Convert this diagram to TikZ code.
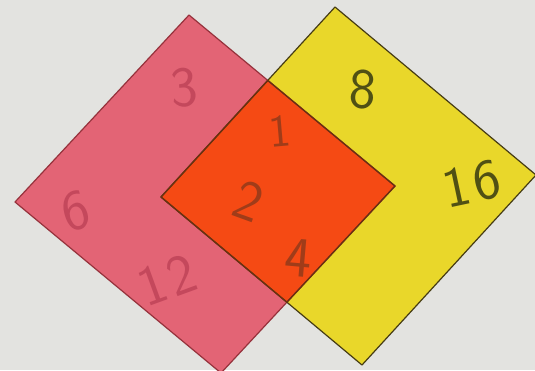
\documentclass[tikz,border=0pt]{standalone}
\usepackage{fontspec}
\definecolor{bg}{RGB}{227,227,224}
\definecolor{pinkf}{RGB}{227,100,117}
\definecolor{yellowf}{RGB}{233,215,42}
\definecolor{orangef}{RGB}{245,74,20}
\definecolor{pinkline}{RGB}{150,50,60}
\definecolor{yellowline}{RGB}{70,60,20}
\definecolor{pinkdigit}{RGB}{196,72,92}
\definecolor{olivedigit}{RGB}{80,80,20}
\definecolor{orangedigit}{RGB}{160,60,25}
\begin{document}
\begin{tikzpicture}[x=1pt,y=-1pt,
  digit/.style={font=\sffamily\fontsize{57}{57}\selectfont, inner sep=0pt},
  pinkd/.style={digit, text=pinkdigit},
  yelld/.style={digit, text=olivedigit},
  orad/.style={digit, text=orangedigit}]
\fill[bg] (0,0) rectangle (535,370);
\useasboundingbox (0,0) rectangle (535,370);
\begin{scope}
\clip (0,0) rectangle (535,370);
% corners
\coordinate (pT) at (189,15);
\coordinate (pL) at (15,202);
\coordinate (pB) at (221,373);
\coordinate (pR) at (395,186);
\coordinate (yT) at (335,7);
\coordinate (yR) at (536,175);
\coordinate (yB) at (362,365);
\coordinate (yL) at (161,197);
\fill[pinkf] (pT) -- (pR) -- (pB) -- (pL) -- cycle;
\fill[yellowf] (yT) -- (yR) -- (yB) -- (yL) -- cycle;
\begin{scope}
\clip (pT) -- (pR) -- (pB) -- (pL) -- cycle;
\fill[orangef] (yT) -- (yR) -- (yB) -- (yL) -- cycle;
\end{scope}
\draw[pinkline, line width=1.2pt, line join=round] (pT) -- (pR) -- (pB) -- (pL) -- cycle;
\draw[yellowline, line width=1.2pt, line join=round] (yT) -- (yR) -- (yB) -- (yL) -- cycle;
\begin{scope}
\clip (pT) -- (pR) -- (pB) -- (pL) -- cycle;
\draw[yellowline!80!red, line width=1.4pt, line join=round] (yT) -- (yR) -- (yB) -- (yL) -- cycle;
\end{scope}
\begin{scope}
\clip (yT) -- (yR) -- (yB) -- (yL) -- cycle;
\draw[yellowline!80!red, line width=1.4pt, line join=round] (pT) -- (pR) -- (pB) -- (pL) -- cycle;
\end{scope}
\end{scope}
% numbers
\node[pinkd, rotate=5] (n3) at (184,88) {3};
\node[pinkd, rotate=15] (n6) at (76,211) {6};
\node[pinkd, rotate=20] (n12) at (167,280) {1\kern4pt2};
\node[yelld, rotate=-3] (n8) at (363,90) {8};
\node[yelld, rotate=12] (n16) at (472,184) {1\kern4pt6};
\node[orad, rotate=5, font=\sffamily\fontsize{46}{46}\selectfont] (n1) at (280,131) {1};
\node[orad, rotate=-20] (n2) at (249,201) {2};
\node[orad, rotate=-5] (n4) at (298,258) {4};
\end{tikzpicture}
\end{document}
